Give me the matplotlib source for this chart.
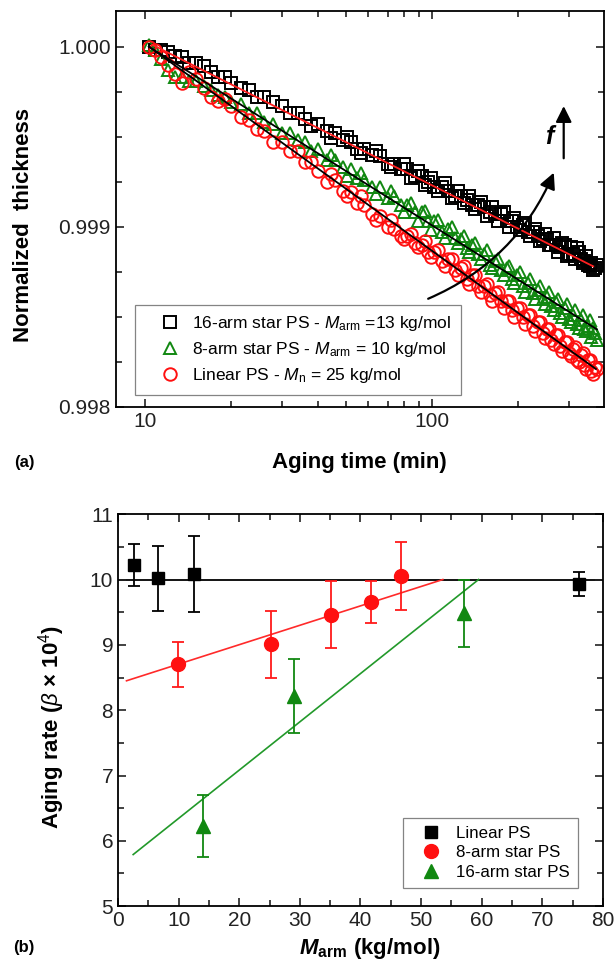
import numpy as np
import matplotlib.pyplot as plt
from matplotlib.ticker import MultipleLocator, FixedLocator, FormatStrFormatter, NullFormatter

plt.rcParams['font.family'] = ['Liberation Sans', 'DejaVu Sans']
plt.rcParams['mathtext.fontset'] = 'custom'
plt.rcParams['mathtext.rm'] = 'Liberation Sans'
plt.rcParams['mathtext.it'] = 'Liberation Sans:italic'
plt.rcParams['mathtext.bf'] = 'Liberation Sans:bold'
plt.rcParams['mathtext.bfit'] = 'Liberation Sans:bold:italic'

# ---- panel (a): normalized thickness vs aging time ----
aging_time = [10.3, 10.8, 11.4, 12, 12.7, 13.4, 14.2, 15, 16, 17, 18, 19, 20, 21.5, 23, 24.5,
              26, 28, 30, 32, 34, 36, 38, 40, 43, 46, 49, 52, 55, 58, 62, 66, 70, 74, 78, 82,
              87, 92, 97, 102, 108, 114, 120, 126, 132, 138, 145, 152, 159, 166, 174, 182,
              190, 198, 207, 216, 225, 234, 243, 252, 261, 270, 280, 290, 300, 310, 320, 330,
              340, 350, 360, 365, 370, 375]

thick_16arm = [1.00000, 0.99998, 0.99998, 0.99997, 0.99995, 0.99994, 0.99991, 0.99991, 0.99989,
               0.99986, 0.99983, 0.99983, 0.99980, 0.99977, 0.99976, 0.99972, 0.99972, 0.99969,
               0.99967, 0.99963, 0.99963, 0.99960, 0.99956, 0.99957, 0.99953, 0.99952, 0.99948,
               0.99947, 0.99943, 0.99943, 0.99940, 0.99939, 0.99935, 0.99935, 0.99932, 0.99932,
               0.99928, 0.99928, 0.99925, 0.99922, 0.99922, 0.99920, 0.99917, 0.99917, 0.99915,
               0.99912, 0.99912, 0.99911, 0.99908, 0.99907, 0.99907, 0.99903, 0.99903, 0.99900,
               0.99901, 0.99897, 0.99897, 0.99895, 0.99893, 0.99893, 0.99890, 0.99890, 0.99889,
               0.99890, 0.99885, 0.99885, 0.99888, 0.99882, 0.99881, 0.99879, 0.99880, 0.99876,
               0.99877, 0.99879]

thick_8arm = [1.00001, 0.99998, 0.99993, 0.99987, 0.99983, 0.99983, 0.99981, 0.99981, 0.99978,
              0.99976, 0.99973, 0.99972, 0.99969, 0.99968, 0.99963, 0.99963, 0.99958, 0.99957,
              0.99952, 0.99952, 0.99948, 0.99947, 0.99942, 0.99943, 0.99937, 0.99937, 0.99933,
              0.99932, 0.99927, 0.99926, 0.99922, 0.99922, 0.99916, 0.99917, 0.99912, 0.99912,
              0.99908, 0.99908, 0.99903, 0.99903, 0.99897, 0.99899, 0.99894, 0.99893, 0.99888,
              0.99890, 0.99885, 0.99885, 0.99879, 0.99881, 0.99876, 0.99877, 0.99871, 0.99873,
              0.99867, 0.99869, 0.99863, 0.99865, 0.99860, 0.99861, 0.99856, 0.99858, 0.99852,
              0.99855, 0.99849, 0.99851, 0.99846, 0.99848, 0.99843, 0.99845, 0.99839, 0.99844,
              0.99841, 0.99837]

thick_linear = [1.00000, 0.99998, 0.99994, 0.99990, 0.99985, 0.99980, 0.99986, 0.99982, 0.99977,
                0.99972, 0.99970, 0.99971, 0.99967, 0.99961, 0.99959, 0.99954, 0.99953, 0.99947,
                0.99947, 0.99942, 0.99942, 0.99936, 0.99936, 0.99931, 0.99925, 0.99926, 0.99920,
                0.99919, 0.99913, 0.99912, 0.99907, 0.99906, 0.99900, 0.99899, 0.99895, 0.99895,
                0.99891, 0.99890, 0.99886, 0.99886, 0.99881, 0.99882, 0.99876, 0.99877, 0.99871,
                0.99873, 0.99867, 0.99867, 0.99862, 0.99863, 0.99859, 0.99859, 0.99854, 0.99855,
                0.99850, 0.99851, 0.99845, 0.99847, 0.99841, 0.99843, 0.99837, 0.99840, 0.99834,
                0.99836, 0.99830, 0.99832, 0.99826, 0.99829, 0.99823, 0.99826, 0.99820, 0.99818,
                0.99822, 0.99821]

# interleaved readings where the markers pile up into a band
aging_time_b = [44.5, 50.5, 56.5, 64, 72, 80, 84.5, 89.5, 94.5, 99.5, 105, 111, 117, 123, 129,
                135, 141.5, 148.5, 155.5, 162.5, 170, 178, 186, 194, 202.5, 211.5, 220.5, 229.5,
                238.5, 247.5, 256.5, 265.5, 275, 285, 295, 305, 315, 325, 335, 345, 355]

thick_16arm_b = [0.99949, 0.99950, 0.99941, 0.99942, 0.99933, 0.99935, 0.99927, 0.99931, 0.99923,
                 0.99927, 0.99920, 0.99924, 0.99916, 0.99920, 0.99913, 0.99917, 0.99910, 0.99914,
                 0.99906, 0.99911, 0.99903, 0.99908, 0.99900, 0.99905, 0.99898, 0.99902, 0.99895,
                 0.99899, 0.99892, 0.99896, 0.99890, 0.99894, 0.99886, 0.99891, 0.99884, 0.99889,
                 0.99882, 0.99886, 0.99880, 0.99884, 0.99878]

thick_8arm_b = [0.99940, 0.99928, 0.99930, 0.99918, 0.99920, 0.99908, 0.99913, 0.99903, 0.99909,
                0.99898, 0.99904, 0.99894, 0.99900, 0.99891, 0.99895, 0.99886, 0.99891, 0.99882,
                0.99887, 0.99877, 0.99882, 0.99873, 0.99878, 0.99869, 0.99875, 0.99864, 0.99871,
                0.99860, 0.99867, 0.99857, 0.99864, 0.99854, 0.99860, 0.99850, 0.99857, 0.99847,
                0.99854, 0.99844, 0.99851, 0.99842, 0.99848]

thick_linear_b = [0.99929, 0.99917, 0.99917, 0.99904, 0.99904, 0.99893, 0.99896, 0.99889, 0.99892,
                  0.99883, 0.99887, 0.99878, 0.99882, 0.99873, 0.99878, 0.99868, 0.99873, 0.99864,
                  0.99868, 0.99859, 0.99864, 0.99855, 0.99859, 0.99850, 0.99855, 0.99846, 0.99851,
                  0.99842, 0.99847, 0.99838, 0.99843, 0.99835, 0.99840, 0.99831, 0.99836, 0.99828,
                  0.99833, 0.99825, 0.99830, 0.99821, 0.99826]

# fit lines (end points)
fit_16arm_t, fit_16arm_y = [10.6, 365], [1.00001, 0.99878]
fit_8arm_t, fit_8arm_y = [10.3, 376], [1.00000, 0.99843]
fit_linear_t, fit_linear_y = [10.3, 373], [1.00000, 0.99821]

labels_a = [r'16-arm star PS - $M_{\rm arm}$ =13 kg/mol',
            r'8-arm star PS - $M_{\rm arm}$ = 10 kg/mol',
            r'Linear PS - $M_{\rm n}$ = 25 kg/mol']

# ---- panel (b): aging rate vs M_arm ----
lin_x = [2.6, 6.6, 12.5, 76.0]
lin_y = [10.22, 10.02, 10.09, 9.93]
lin_err = [0.32, 0.50, 0.58, 0.18]

arm8_x = [9.9, 25.3, 35.1, 41.8, 46.7]
arm8_y = [8.70, 9.01, 9.46, 9.66, 10.05]
arm8_err = [0.34, 0.51, 0.51, 0.32, 0.52]

arm16_x = [14.1, 29.1, 57.1]
arm16_y = [6.23, 8.22, 9.48]
arm16_err = [0.47, 0.57, 0.52]

ref_line_x, ref_line_y = [0, 80], [10, 10]
arm8_fit_x, arm8_fit_y = [1.4, 53.6], [8.45, 10.0]
arm16_fit_x, arm16_fit_y = [2.5, 59.5], [5.79, 10.0]

fig = plt.figure(figsize=(6.16, 9.64), dpi=100)

# ================= (a) =================
ax = fig.add_axes([0.188, 0.578, 0.792, 0.411])
ax.plot(aging_time + aging_time_b, thick_16arm + thick_16arm_b, 's', mfc='none', mec='black',
        ms=8, mew=1.4, label=labels_a[0])
ax.plot(aging_time + aging_time_b, thick_8arm + thick_8arm_b, '^', mfc='none', mec='#118811',
        ms=9, mew=1.4, label=labels_a[1])
ax.plot(aging_time + aging_time_b, thick_linear + thick_linear_b, 'o', mfc='none', mec='#ff1010',
        ms=9, mew=1.4, label=labels_a[2])
ax.plot(fit_16arm_t, fit_16arm_y, color='#ff2020', lw=1.3)
ax.plot(fit_8arm_t, fit_8arm_y, color='black', lw=1.3)
ax.plot(fit_linear_t, fit_linear_y, color='black', lw=1.3)

ax.annotate('', xy=(266, 0.99930), xytext=(97, 0.99860),
            arrowprops=dict(arrowstyle='-|>', connectionstyle='arc3,rad=0.2', color='black',
                            lw=1.6, mutation_scale=24, shrinkA=0, shrinkB=0))
ax.annotate('', xy=(288, 0.99967), xytext=(288, 0.99938),
            arrowprops=dict(arrowstyle='-|>', color='black', lw=1.6, mutation_scale=24,
                            shrinkA=0, shrinkB=0))
ax.text(256, 0.99950, 'f', fontsize=18, fontstyle='italic', fontweight='bold', ha='center', va='center')

ax.set_xscale('log')
ax.set_xlim(7.9, 397)
ax.set_ylim(0.998, 1.0002)
ax.xaxis.set_major_locator(FixedLocator([10, 100]))
ax.xaxis.set_minor_locator(FixedLocator([20, 30, 40, 50, 60, 70, 80, 90, 200, 300]))
ax.xaxis.set_major_formatter(FormatStrFormatter('%d'))
ax.xaxis.set_minor_formatter(NullFormatter())
ax.yaxis.set_major_locator(MultipleLocator(0.001))
ax.yaxis.set_minor_locator(MultipleLocator(0.00025))
ax.yaxis.set_major_formatter(FormatStrFormatter('%.3f'))

ax.set_xlabel('Aging time (min)', fontsize=16, fontweight='bold')
ax.xaxis.label.set_va('center')
ax.xaxis.set_label_coords(0.5, -0.141)
ax.set_ylabel('Normalized  thickness', fontsize=16, fontweight='bold')
ax.yaxis.label.set_va('center')
ax.yaxis.set_label_coords(-0.189, 0.46)

leg = ax.legend(loc='lower left', bbox_to_anchor=(0.039, 0.03), fontsize=12.5, frameon=True,
                fancybox=False, edgecolor='#666666', handlelength=2.9, handletextpad=-0.15,
                labelspacing=0.4, borderpad=0.55, borderaxespad=0)
leg.get_frame().set_linewidth(0.9)

# ================= (b) =================
ax2 = fig.add_axes([0.1916, 0.060, 0.787, 0.4066])
ax2.plot(ref_line_x, ref_line_y, color='black', lw=1.3, zorder=1)
ax2.plot(arm8_fit_x, arm8_fit_y, color='#ff2a2a', lw=1.2, zorder=1)
ax2.plot(arm16_fit_x, arm16_fit_y, color='#22992a', lw=1.2, zorder=1)

ax2.errorbar(lin_x, lin_y, yerr=lin_err, fmt='none', ecolor='black', elinewidth=1.3, capsize=4.5, capthick=1.3)
ax2.errorbar(arm8_x, arm8_y, yerr=arm8_err, fmt='none', ecolor='#ff1a1a', elinewidth=1.3, capsize=4.5, capthick=1.3)
ax2.errorbar(arm16_x, arm16_y, yerr=arm16_err, fmt='none', ecolor='#118811', elinewidth=1.3, capsize=4.5, capthick=1.3)
ax2.plot(lin_x, lin_y, 's', color='black', ms=8, label='Linear PS', zorder=3)
ax2.plot(arm8_x, arm8_y, 'o', color='#ff1010', ms=10, label='8-arm star PS', zorder=3)
ax2.plot(arm16_x, arm16_y, '^', color='#118811', ms=10, label='16-arm star PS', zorder=3)

ax2.set_xlim(0, 80)
ax2.set_ylim(5, 11)
ax2.xaxis.set_major_locator(MultipleLocator(10))
ax2.xaxis.set_minor_locator(MultipleLocator(5))
ax2.yaxis.set_major_locator(MultipleLocator(1))
ax2.yaxis.set_minor_locator(MultipleLocator(0.5))

ax2.set_xlabel(r'$\mathbfit{M}_{\mathbf{arm}}$ (kg/mol)', fontsize=16, fontweight='bold')
ax2.xaxis.label.set_va('center')
ax2.xaxis.set_label_coords(0.52, -0.107)
ax2.set_ylabel(r'Aging rate ($\beta$ × 10$^4$)', fontsize=16, fontweight='bold')
ax2.yaxis.label.set_va('center')
ax2.yaxis.set_label_coords(-0.138, 0.457)

leg2 = ax2.legend(loc='lower left', bbox_to_anchor=(0.588, 0.046), fontsize=12.2, frameon=True,
                  fancybox=False, edgecolor='#666666', handlelength=2.3, handletextpad=0.3,
                  labelspacing=0.25, borderpad=0.5, borderaxespad=0)
leg2.get_frame().set_linewidth(0.9)

for a in (ax, ax2):
    a.tick_params(which='both', direction='in', top=True, right=True, labelsize=15, colors='#222222')
    a.tick_params(which='major', length=6, width=1.2)
    a.tick_params(which='minor', length=4, width=1.2)
    for s in a.spines.values():
        s.set_linewidth(1.3)

fig.text(0.039, 0.520, '(a)', fontsize=12, fontweight='bold', ha='center', va='center')
fig.text(0.039, 0.0166, '(b)', fontsize=12, fontweight='bold', ha='center', va='center')

fig.savefig('out.png', dpi=100)
